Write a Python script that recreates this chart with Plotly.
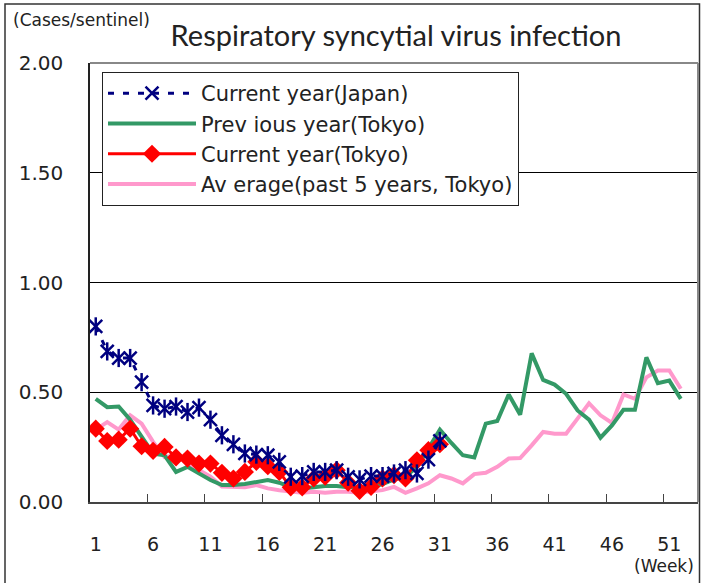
import plotly.graph_objects as go

weeks = list(range(1, 53))
week_ticks = [1, 6, 11, 16, 21, 26, 31, 36, 41, 46, 51]
y_ticks = [0.0, 0.5, 1.0, 1.5, 2.0]

japan_current = [0.80, 0.686, 0.656, 0.656, 0.546, 0.44, 0.425, 0.435, 0.41, 0.43,
                 0.375, 0.304, 0.263, 0.221, 0.216, 0.213, 0.183, 0.115, 0.118, 0.137,
                 0.137, 0.145, 0.115, 0.103, 0.118, 0.118, 0.13, 0.145, 0.13, 0.193, 0.278]

tokyo_current = [0.334, 0.278, 0.284, 0.334, 0.254, 0.233, 0.251, 0.203, 0.198, 0.175,
                 0.175, 0.133, 0.107, 0.137, 0.183, 0.163, 0.137, 0.067, 0.067, 0.107,
                 0.115, 0.145, 0.088, 0.051, 0.069, 0.107, 0.122, 0.107, 0.19, 0.236, 0.263]

tokyo_previous = [0.47, 0.432, 0.435, 0.375, 0.298, 0.22, 0.213, 0.137, 0.16, 0.13,
                  0.10, 0.077, 0.077, 0.082, 0.092, 0.10, 0.088, 0.067, 0.062, 0.067,
                  0.073, 0.073, 0.067, 0.067, 0.067, 0.082, 0.103, 0.115, 0.16, 0.243,
                  0.33, 0.269, 0.213, 0.203, 0.357, 0.369, 0.49, 0.398, 0.677, 0.556,
                  0.535, 0.493, 0.417, 0.375, 0.293, 0.349, 0.42, 0.42, 0.659, 0.541,
                  0.553, 0.47]

tokyo_average = [0.33, 0.364, 0.33, 0.395, 0.357, 0.274, 0.205, 0.213, 0.175, 0.145,
                 0.115, 0.07, 0.07, 0.067, 0.077, 0.062, 0.054, 0.047, 0.042, 0.047,
                 0.042, 0.047, 0.047, 0.042, 0.047, 0.054, 0.069, 0.042, 0.062, 0.085,
                 0.122, 0.107, 0.085, 0.127, 0.133, 0.16, 0.198, 0.2, 0.258, 0.319,
                 0.311, 0.311, 0.38, 0.45, 0.395, 0.36, 0.49, 0.47, 0.568, 0.599,
                 0.599, 0.516]

TITLE_FONT = "Lato"
FONT = "DejaVu Sans"
TXT = "#222222"
NAVY = "#000080"
GREEN = "#339966"
RED = "#FF0000"
PINK = "#FF99CC"

fig = go.Figure()

fig.add_trace(go.Scatter(
    x=weeks, y=tokyo_average, mode="lines", name="Av erage(past 5 years, Tokyo)",
    line=dict(color=PINK, width=4), legendgroup="d", legendrank=4))
fig.add_trace(go.Scatter(
    x=weeks, y=tokyo_previous, mode="lines", name="Prev ious year(Tokyo)",
    line=dict(color=GREEN, width=4), legendgroup="b", legendrank=2))
fig.add_trace(go.Scatter(
    x=weeks[:len(tokyo_current)], y=tokyo_current, mode="lines+markers",
    name="Current year(Tokyo)",
    line=dict(color=RED, width=3),
    marker=dict(symbol="diamond", size=14, color=RED), legendgroup="c", legendrank=3))
fig.add_trace(go.Scatter(
    x=weeks[:len(japan_current)], y=japan_current, mode="lines+markers",
    name="Current year(Japan)",
    line=dict(color=NAVY, width=3, dash="6px,9px"),
    marker=dict(symbol="x-thin-open", size=13, color=NAVY,
                line=dict(color=NAVY, width=2.5)),
    legendgroup="a", legendrank=1))
fig.add_trace(go.Scatter(
    x=weeks[:len(japan_current)], y=japan_current, mode="markers",
    showlegend=False, hoverinfo="skip",
    marker=dict(symbol="line-ns-open", size=13, color=NAVY,
                line=dict(color=NAVY, width=2.5))))

PL, PR, PT, PB = 90, 698, 63, 502
W, H = 701, 583
pw, ph = PR - PL, PB - PT

def px_x(p):
    return (p - PL) / pw

def px_y(p):
    return (PB - p) / ph

shapes = [
    dict(type="rect", xref="paper", yref="paper",
         x0=px_x(5), x1=px_x(699.5), y0=px_y(600), y1=px_y(4),
         line=dict(color="#333333", width=1.5), layer="below"),
    dict(type="line", xref="paper", yref="paper", x0=0, x1=1, y0=1, y1=1,
         line=dict(color="#888888", width=2)),
    dict(type="line", xref="paper", yref="paper", x0=1, x1=1, y0=0, y1=1,
         line=dict(color="#888888", width=2)),
]

fig.update_layout(
    width=W, height=H,
    margin=dict(l=PL, r=W - PR, t=PT, b=H - PB),
    paper_bgcolor="white", plot_bgcolor="white",
    font=dict(family=FONT, color=TXT),
    title=dict(text="Respiratory syncytial virus infection",
               x=396 / W, xanchor="center", xref="container",
               y=1 - 36 / H, yanchor="middle", yref="container",
               font=dict(size=29, family=TITLE_FONT, color=TXT)),
    showlegend=True,
    legend=dict(x=px_x(102), y=px_y(72), xanchor="left", yanchor="top",
                bgcolor="white", bordercolor=TXT, borderwidth=1,
                font=dict(size=21, family=FONT, color=TXT),
                traceorder="grouped", tracegroupgap=0, itemwidth=88),
    shapes=shapes,
    annotations=[
        dict(text="(Cases/sentinel)", xref="paper", yref="paper",
             x=px_x(11), y=px_y(20), xanchor="left", yanchor="middle",
             showarrow=False, font=dict(size=17, family=FONT, color=TXT)),
        dict(text="(Week)", xref="paper", yref="paper",
             x=px_x(696), y=px_y(566), xanchor="right", yanchor="middle",
             showarrow=False, font=dict(size=17, family=FONT, color=TXT)),
    ],
)

fig.update_xaxes(
    range=[0.5, 53.5], tickmode="array", tickvals=week_ticks,
    ticktext=[str(w) for w in week_ticks],
    showgrid=False, zeroline=False,
    showline=True, linecolor="#444444", linewidth=2,
    ticks="", ticklabelstandoff=24,
    tickfont=dict(size=19, family=FONT, color=TXT),
    minor=dict(tickvals=[5.5 + 5 * i for i in range(10)], ticks="inside",
               ticklen=8, tickcolor="#444444", tickwidth=1, showgrid=False),
)
fig.update_yaxes(
    range=[0, 2], tickmode="array", tickvals=y_ticks,
    ticktext=[f"{v:.2f}" for v in y_ticks],
    showgrid=True, gridcolor="#000000", gridwidth=1, zeroline=False,
    showline=True, linecolor="#222222", linewidth=1.5,
    ticks="", ticklabelstandoff=21,
    tickfont=dict(size=20, family=FONT, color=TXT),
)

fig.write_html("out.html", config={"displayModeBar": False},
               post_script="document.body.style.margin='0';")
